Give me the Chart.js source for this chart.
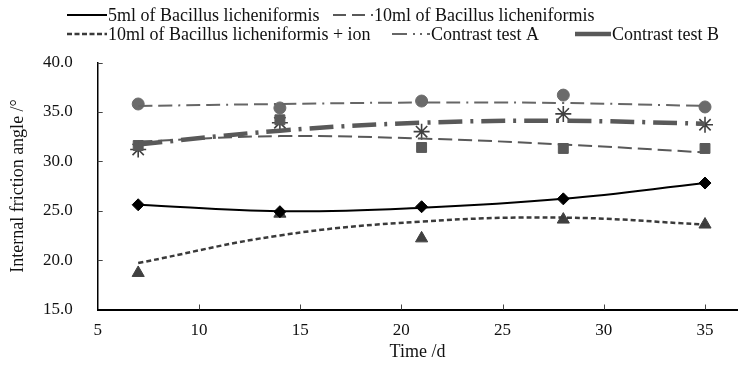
<!DOCTYPE html>
<html><head><meta charset="utf-8">
<script src="https://cdn.jsdelivr.net/npm/chart.js@4"></script>
<style>html,body{margin:0;padding:0;background:#fff;}canvas{display:block;}</style>
</head><body>
<canvas id="c" width="747" height="365"></canvas>
<script>
// ---- data ----
const days = [7, 14, 21, 28, 35];
const seriesNames = [
  '5ml of Bacillus licheniformis',
  '10ml of Bacillus licheniformis',
  '10ml of Bacillus licheniformis + ion',
  'Contrast test A',
  'Contrast test B'
];
// measured points (markers)
const bac5Points    = [25.6, 24.9, 25.4, 26.2, 27.8];
const bac10Points   = [31.6, 34.2, 31.4, 31.3, 31.3];
const bacIonPoints  = [18.7, 24.7, 22.2, 24.1, 23.6];
const contrastAPts  = [35.8, 35.4, 36.1, 36.7, 35.5];
const contrastBPts  = [31.2, 33.9, 33.0, 34.8, 33.7];
// trend lines
const bac5Trend     = [25.6, 24.95, 25.3, 26.2, 27.8];
const bac10Trend    = [32.0, 32.55, 32.3, 31.7, 30.9];
const bacIonTrend   = [19.7, 22.5, 23.9, 24.3, 23.6];
const contrastATrend= [35.6, 35.8, 35.95, 35.9, 35.6];
const contrastBTrend= [31.7, 33.1, 33.9, 34.1, 33.8];
// axis ticks
const xTickValues = [5, 10, 15, 20, 25, 30, 35];
const yTickValues = [15, 20, 25, 30, 35, 40];
const xTitle = 'Time /d';
const yTitle = 'Internal friction angle /\u00B0';

const pts = arr => days.map((d, i) => ({x: d, y: arr[i]}));
const FONT = "'Liberation Serif', 'Times New Roman', serif";

const lineStyles = [
  {color: '#000000', width: 2,   dash: [],               legendDash: []},
  {color: '#595959', width: 2,   dash: [14, 6],          legendDash: [13, 6]},
  {color: '#3a3a3a', width: 2.5, dash: [5, 3],           legendDash: [5, 2.5]},
  {color: '#666666', width: 2,   dash: [14, 6, 14, 6, 2, 6], legendDash: [15, 6, 2, 5, 2, 5]},
  {color: '#595959', width: 4.5, dash: [24, 8, 3, 8],    legendDash: []}
];
const trends = [bac5Trend, bac10Trend, bacIonTrend, contrastATrend, contrastBTrend];
const points = [bac5Points, bac10Points, bacIonPoints, contrastAPts, contrastBPts];
const markerStyles = [
  {style: 'rectRot', r: 6,   fill: '#000000', stroke: '#000000', bw: 1},
  {style: 'rect',    r: 7,   fill: '#595959', stroke: '#595959', bw: 1},
  {style: 'triangle',r: 7,   fill: '#404040', stroke: '#404040', bw: 1},
  {style: 'circle',  r: 6,   fill: '#6b6b6b', stroke: '#6b6b6b', bw: 1},
  {style: 'star',    r: 8,   fill: '#404040', stroke: '#404040', bw: 1.6}
];

const datasets = [];
trends.forEach((t, i) => {
  const s = lineStyles[i];
  datasets.push({
    label: seriesNames[i], data: pts(t), showLine: true, tension: 0.4,
    borderColor: s.color, borderWidth: s.width, borderDash: s.dash,
    pointRadius: 0, fill: false, legendDash: s.legendDash, isTrend: true
  });
});
points.forEach((p, i) => {
  const m = markerStyles[i];
  datasets.push({
    label: seriesNames[i] + ' (measured)', data: pts(p), showLine: false,
    pointStyle: m.style, pointRadius: m.r, pointBackgroundColor: m.fill,
    pointBorderColor: m.stroke, pointBorderWidth: m.bw, pointHoverRadius: m.r
  });
});

const legendPlugin = {
  id: 'customLegend',
  afterDraw(chart) {
    const ctx = chart.ctx;
    const items = [
      {i: 0, x0: 67,  x1: 107, y: 15},
      {i: 1, x0: 333, x1: 373, y: 15},
      {i: 2, x0: 67,  x1: 107, y: 34},
      {i: 3, x0: 392, x1: 430, y: 34},
      {i: 4, x0: 575, x1: 611, y: 34}
    ];
    ctx.save();
    items.forEach(it => {
      const ds = chart.data.datasets[it.i];
      ctx.beginPath();
      ctx.strokeStyle = ds.borderColor;
      ctx.lineWidth = ds.borderWidth;
      ctx.setLineDash(ds.legendDash || []);
      ctx.moveTo(it.x0, it.y);
      ctx.lineTo(it.x1, it.y);
      ctx.stroke();
      ctx.setLineDash([]);
      ctx.fillStyle = '#111';
      ctx.font = '18px ' + FONT;
      ctx.textBaseline = 'middle';
      ctx.textAlign = 'left';
      ctx.fillText(ds.label, it.x1 + 1, it.y + 1);
    });
    ctx.restore();
  }
};

const innerTicks = {
  id: 'innerTicks',
  afterDraw(chart) {
    const {ctx, chartArea, scales} = chart;
    ctx.save();
    ctx.strokeStyle = '#444';
    ctx.lineWidth = 1;
    scales.y.ticks.forEach(t => {
      if (t.value === scales.y.min) return;
      const y = Math.round(scales.y.getPixelForValue(t.value)) + 0.5;
      ctx.beginPath(); ctx.moveTo(chartArea.left, y); ctx.lineTo(chartArea.left + 5, y); ctx.stroke();
    });
    scales.x.ticks.forEach(t => {
      if (t.value === scales.x.min) return;
      const x = Math.round(scales.x.getPixelForValue(t.value)) + 0.5;
      ctx.beginPath(); ctx.moveTo(x, chartArea.bottom); ctx.lineTo(x, chartArea.bottom - 5); ctx.stroke();
    });
    ctx.restore();
  }
};

new Chart(document.getElementById('c'), {
  type: 'scatter',
  data: {datasets},
  options: {
    responsive: false, animation: false, devicePixelRatio: 1,
    layout: {padding: {top: 62.5, right: 0, bottom: 0, left: 0}},
    plugins: {legend: {display: false}, tooltip: {enabled: false}},
    scales: {
      x: {
        type: 'linear', min: 5, max: 36.6,
        afterBuildTicks: s => { s.ticks = xTickValues.map(v => ({value: v})); },
        afterFit: s => { s.height = 55.5; },
        grid: {display: false, drawTicks: false},
        border: {display: true, color: '#000', width: 2},
        ticks: {padding: 11, color: '#111', font: {family: FONT, size: 17}, maxRotation: 0, autoSkip: false,
                callback: v => String(v)},
        title: {display: true, text: xTitle, color: '#111', font: {family: FONT, size: 18}, padding: {top: 0, bottom: 2}}
      },
      y: {
        type: 'linear', min: 15, max: 40,
        afterBuildTicks: s => { s.ticks = yTickValues.map(v => ({value: v})); },
        afterFit: s => { s.width = 97.7; },
        grid: {display: false, drawTicks: false},
        border: {display: true, color: '#000', width: 1.5},
        ticks: {padding: 25, color: '#111', font: {family: FONT, size: 17},
                callback: v => Number(v).toFixed(1)},
        title: {display: true, text: yTitle, color: '#111', font: {family: FONT, size: 18}, padding: {top: 7, bottom: 0}}
      }
    }
  },
  plugins: [legendPlugin, innerTicks]
});
</script>
</body></html>
